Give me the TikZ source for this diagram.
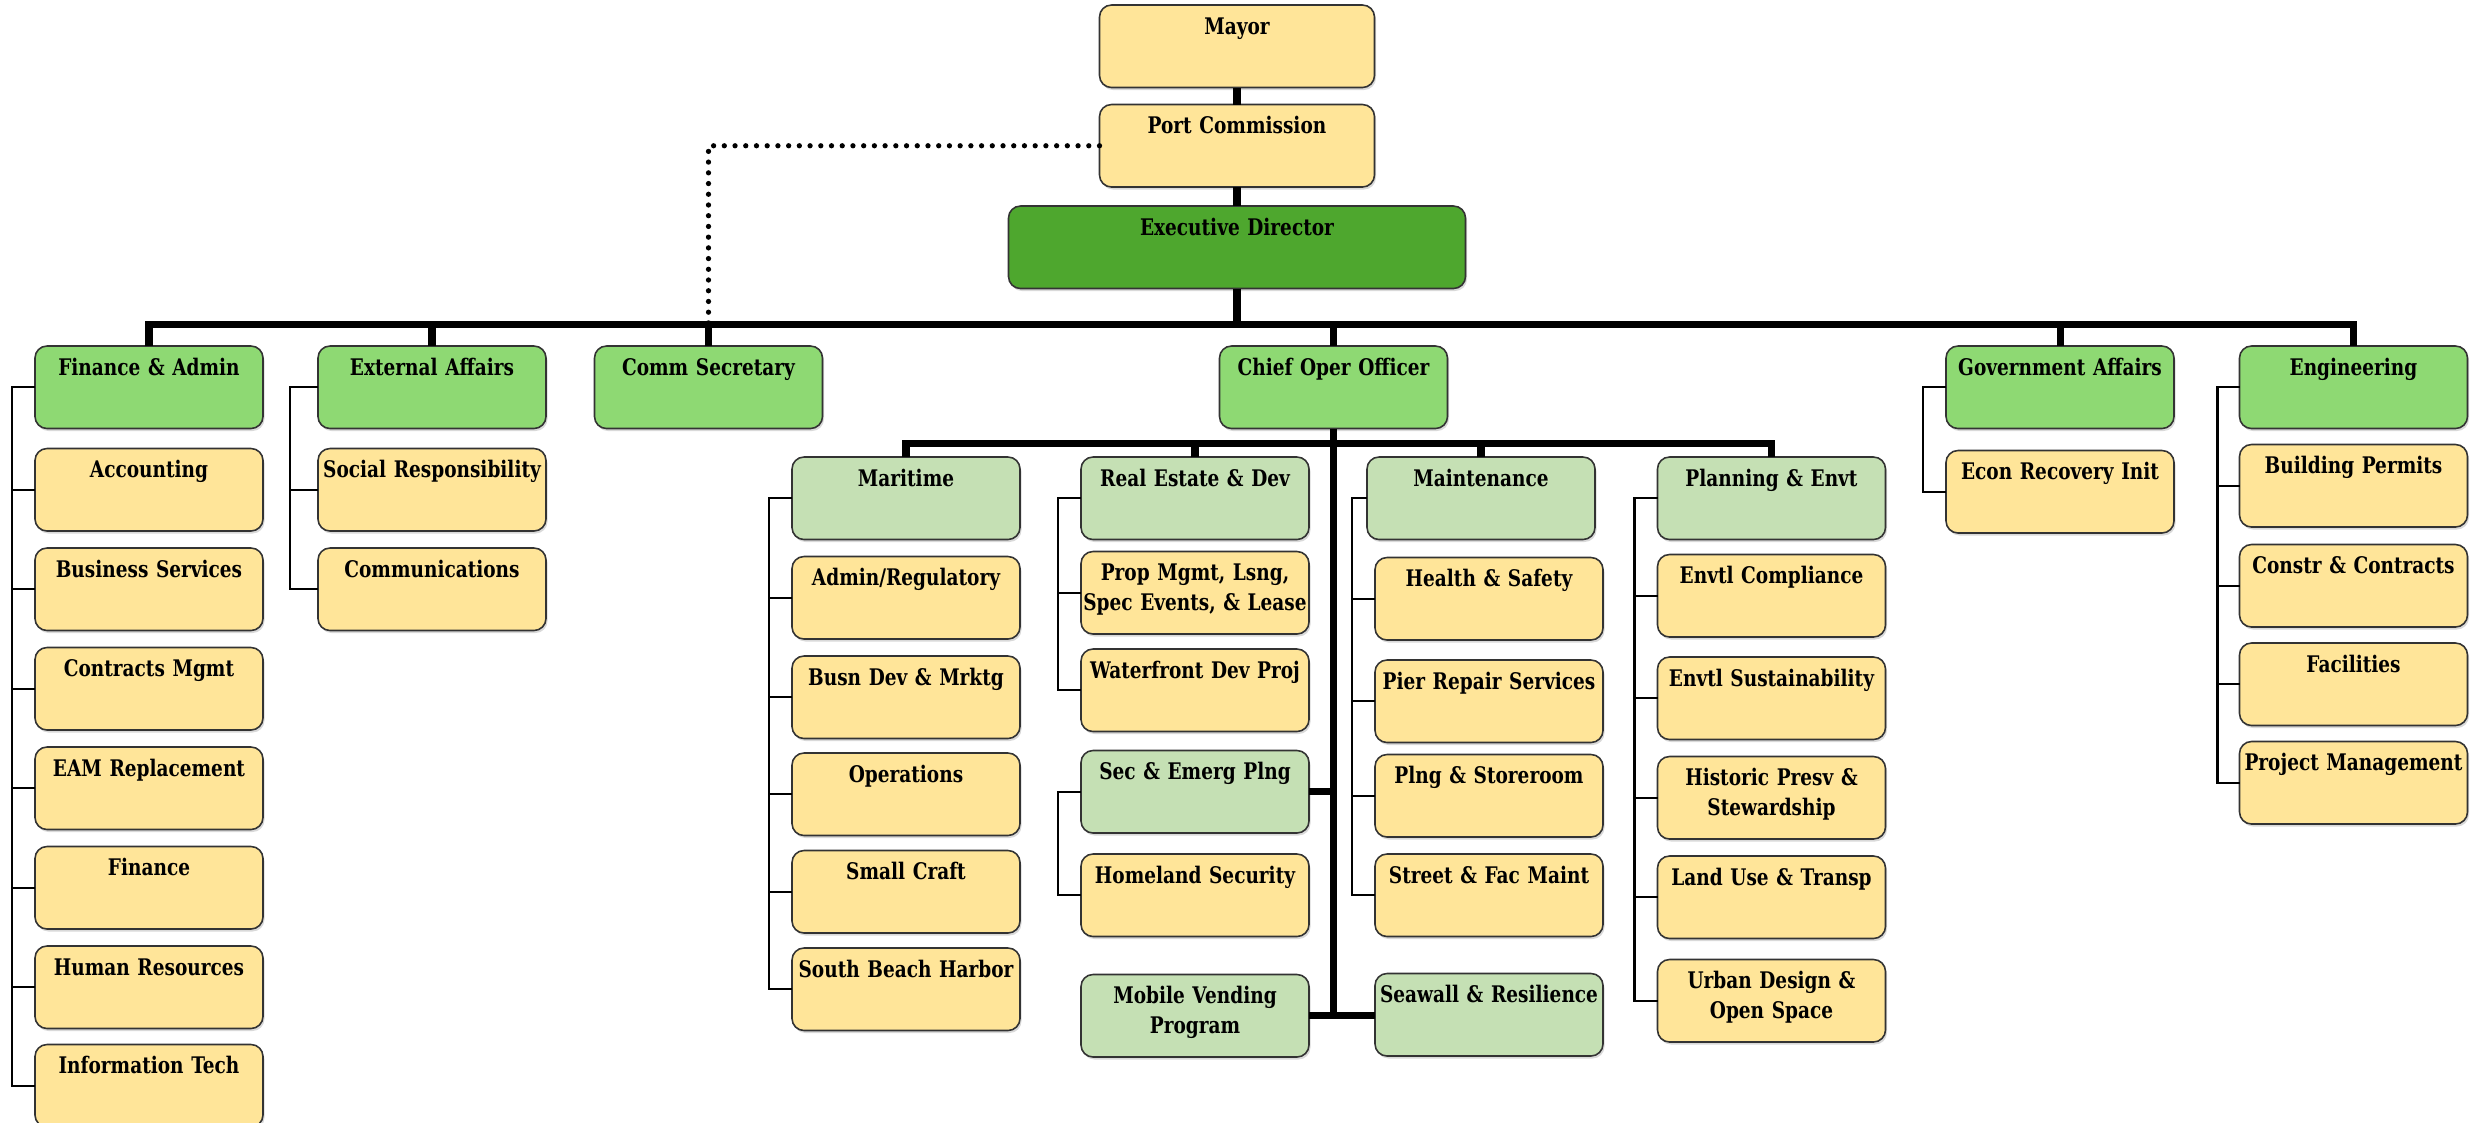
\documentclass[tikz,border=0pt]{standalone}
\usepackage{fontspec}
\newfontfamily\orgfont{DejaVu Serif}[FakeStretch=0.81]
\usetikzlibrary{positioning, shadows}

\definecolor{gold}{HTML}{FFE599}
\definecolor{leaf}{HTML}{8ED973}
\definecolor{forest}{HTML}{4EA72E}
\definecolor{sage}{HTML}{C5E0B4}

\begin{document}
\begin{tikzpicture}[x=1mm, y=1mm, node distance=1.6mm,
    office/.style={draw=black!80, line width=0.45pt, rounded corners=1.2mm, align=center,
      text width=22.6mm, inner xsep=0.1mm, inner ysep=1.1mm, outer sep=0pt,
      text height=1.8mm, text depth=4.25mm,
      font=\orgfont\bfseries\fontsize{6.5}{8.5}\selectfont,
      drop shadow={shadow xshift=0.15mm, shadow yshift=-0.25mm, opacity=0.3}},
    staff/.style={office, fill=gold},
    dept/.style={office, fill=leaf},
    division/.style={office, fill=sage},
    trunk/.style={line width=2pt},
    branch/.style={line width=0.6pt},
    advisory/.style={line width=1.5pt, line cap=round, dash pattern=on 0pt off 3.05pt}]

    \useasboundingbox (0,0) rectangle (247.4,-112.2);

    % Top of the chart
    \node[staff, text width=27.3mm, anchor=north] (mayor) at (123.7,-0.5) {Mayor};
    \node[staff, text width=27.3mm, below=1.7mm of mayor] (portcom) {Port Commission};
    \node[office, fill=forest, text width=45.5mm, below=1.9mm of portcom] (execdir) {Executive Director};

    % Offices under the director
    \coordinate (bus) at (0,-32.4);
    \node[dept, anchor=north] (finadm) at (14.9,-34.6) {Finance \& Admin};
    \node[dept, anchor=north] (extaff) at (43.2,-34.6) {External Affairs};
    \node[dept, anchor=north] (commsec) at (70.85,-34.6) {Comm Secretary};
    \node[dept, anchor=north] (coo) at (133.35,-34.6) {Chief Oper Officer};
    \node[dept, anchor=north] (govaff) at (206.0,-34.6) {Government Affairs};
    \node[dept, anchor=north] (engr) at (235.35,-34.6) {Engineering};

    % Finance & Admin
    \node[staff, below=2mm of finadm] (acct) {Accounting};
    \node[staff, below=1.7mm of acct] (bizsvc) {Business Services};
    \node[staff, below=1.7mm of bizsvc] (contr) {Contracts Mgmt};
    \node[staff, below=1.7mm of contr] (eam) {EAM Replacement};
    \node[staff, below=1.7mm of eam] (finance) {Finance};
    \node[staff, below=1.7mm of finance] (hr) {Human Resources};
    \node[staff, below=1.6mm of hr] (infotech) {Information Tech};

    % External Affairs
    \node[staff, below=2mm of extaff] (socresp) {Social Responsibility};
    \node[staff, below=1.7mm of socresp] (comms) {Communications};

    % Government Affairs and Engineering
    \node[staff, below=2.2mm of govaff] (econ) {Econ Recovery Init};
    \node[staff, below=of engr] (bldg) {Building Permits};
    \node[staff, below=1.75mm of bldg] (constr) {Constr \& Contracts};
    \node[staff, below=1.6mm of constr] (facil) {Facilities};
    \node[staff, below=1.6mm of facil] (projmgmt) {Project Management};

    % Divisions under the COO
    \coordinate (subbus) at (0,-44.3);
    \node[division, anchor=north] (maritime) at (90.6,-45.7) {Maritime};
    \node[division, anchor=north] (realest) at (119.5,-45.7) {Real Estate \& Dev};
    \node[division, anchor=north] (maint) at (148.1,-45.7) {Maintenance};
    \node[division, anchor=north] (plan) at (177.15,-45.7) {Planning \& Envt};

    % Maritime
    \node[staff, below=1.7mm of maritime] (adminreg) {Admin/Regulatory};
    \node[staff, below=1.7mm of adminreg] (busdev) {Busn Dev \& Mrktg};
    \node[staff, below=1.45mm of busdev] (ops) {Operations};
    \node[staff, below=1.5mm of ops] (smallcraft) {Small Craft};
    \node[staff, below=1.5mm of smallcraft] (sbh) {South Beach Harbor};

    % Real Estate & Dev
    \node[staff, below=1.2mm of realest] (propmgmt) {Prop Mgmt, Lsng,\\Spec Events, \& Lease};
    \node[staff, below=1.5mm of propmgmt] (waterfront) {Waterfront Dev Proj};
    \node[division, below=1.9mm of waterfront] (secemerg) {Sec \& Emerg Plng};
    \node[staff, below=2.1mm of secemerg] (homeland) {Homeland Security};
    \node[division, below=3.8mm of homeland] (mobile) {Mobile Vending\\Program};

    % Maintenance
    \node[staff, below=1.8mm of maint, xshift=0.8mm] (health) {Health \& Safety};
    \node[staff, below=2mm of health] (pier) {Pier Repair Services};
    \node[staff, below=1.2mm of pier] (plngstore) {Plng \& Storeroom};
    \node[staff, below=1.7mm of plngstore] (street) {Street \& Fac Maint};
    \node[division, below=3.7mm of street] (seawall) {Seawall \& Resilience};

    % Planning & Envt
    \node[staff, below=1.5mm of plan] (envcomp) {Envtl Compliance};
    \node[staff, below=2mm of envcomp] (envsust) {Envtl Sustainability};
    \node[staff, below=1.7mm of envsust] (histpresv) {Historic Presv \&\\Stewardship};
    \node[staff, below=1.7mm of histpresv] (landuse) {Land Use \& Transp};
    \node[staff, below=2.1mm of landuse] (urban) {Urban Design \&\\Open Space};

    % Line of command
    \draw[trunk] (mayor) -- (portcom);
    \draw[trunk] (portcom) -- (execdir);
    \draw[trunk] (execdir.south) -- (execdir.south |- bus);
    \draw[trunk] (finadm.north) |- (bus -| engr.north) -- (engr.north);
    \draw[trunk] (extaff.north) -- (extaff.north |- bus);
    \draw[trunk] (commsec.north) -- (commsec.north |- bus);
    \draw[trunk] (coo.north) -- (coo.north |- bus);
    \draw[trunk] (govaff.north) -- (govaff.north |- bus);
    \draw[advisory] (portcom.west) -| (commsec.north |- bus);

    % COO lines
    \draw[trunk] (coo.south) -- (coo.south |- mobile.east);
    \draw[trunk] (maritime.north) |- (plan.north |- subbus) -- (plan.north);
    \draw[trunk] (realest.north) -- (realest.north |- subbus);
    \draw[trunk] (maint.north) -- (maint.north |- subbus);
    \draw[trunk] (secemerg.east) -- (secemerg.east -| coo.south);
    \draw[trunk] (mobile.east) -- (mobile.east -| seawall.west);

    % Brackets down the left of each column
    \draw[branch] (finadm.west) -- ++(-2.3,0) |- (infotech.west)
      (acct.west) -- ++(-2.3,0) (bizsvc.west) -- ++(-2.3,0) (contr.west) -- ++(-2.3,0)
      (eam.west) -- ++(-2.3,0) (finance.west) -- ++(-2.3,0) (hr.west) -- ++(-2.3,0);
    \draw[branch] (extaff.west) -- ++(-2.8,0) |- (comms.west)
      (socresp.west) -- ++(-2.8,0);
    \draw[branch] (govaff.west) -- ++(-2.3,0) |- (econ.west);
    \draw[branch] (engr.west) -- ++(-2.2,0) |- (projmgmt.west)
      (bldg.west) -- ++(-2.2,0) (constr.west) -- ++(-2.2,0) (facil.west) -- ++(-2.2,0);
    \draw[branch] (maritime.west) -- ++(-2.3,0) |- (sbh.west)
      (adminreg.west) -- ++(-2.3,0) (busdev.west) -- ++(-2.3,0) (ops.west) -- ++(-2.3,0)
      (smallcraft.west) -- ++(-2.3,0);
    \draw[branch] (realest.west) -- ++(-2.3,0) |- (waterfront.west)
      (propmgmt.west) -- ++(-2.3,0);
    \draw[branch] (secemerg.west) -- ++(-2.3,0) |- (homeland.west);
    \draw[branch] (maint.west) -- ++(-1.5,0) |- (street.west)
      (health.west) -- ++(-2.3,0) (pier.west) -- ++(-2.3,0) (plngstore.west) -- ++(-2.3,0);
    \draw[branch] (plan.west) -- ++(-2.3,0) |- (urban.west)
      (envcomp.west) -- ++(-2.3,0) (envsust.west) -- ++(-2.3,0) (histpresv.west) -- ++(-2.3,0)
      (landuse.west) -- ++(-2.3,0);

\end{tikzpicture}
\end{document}
